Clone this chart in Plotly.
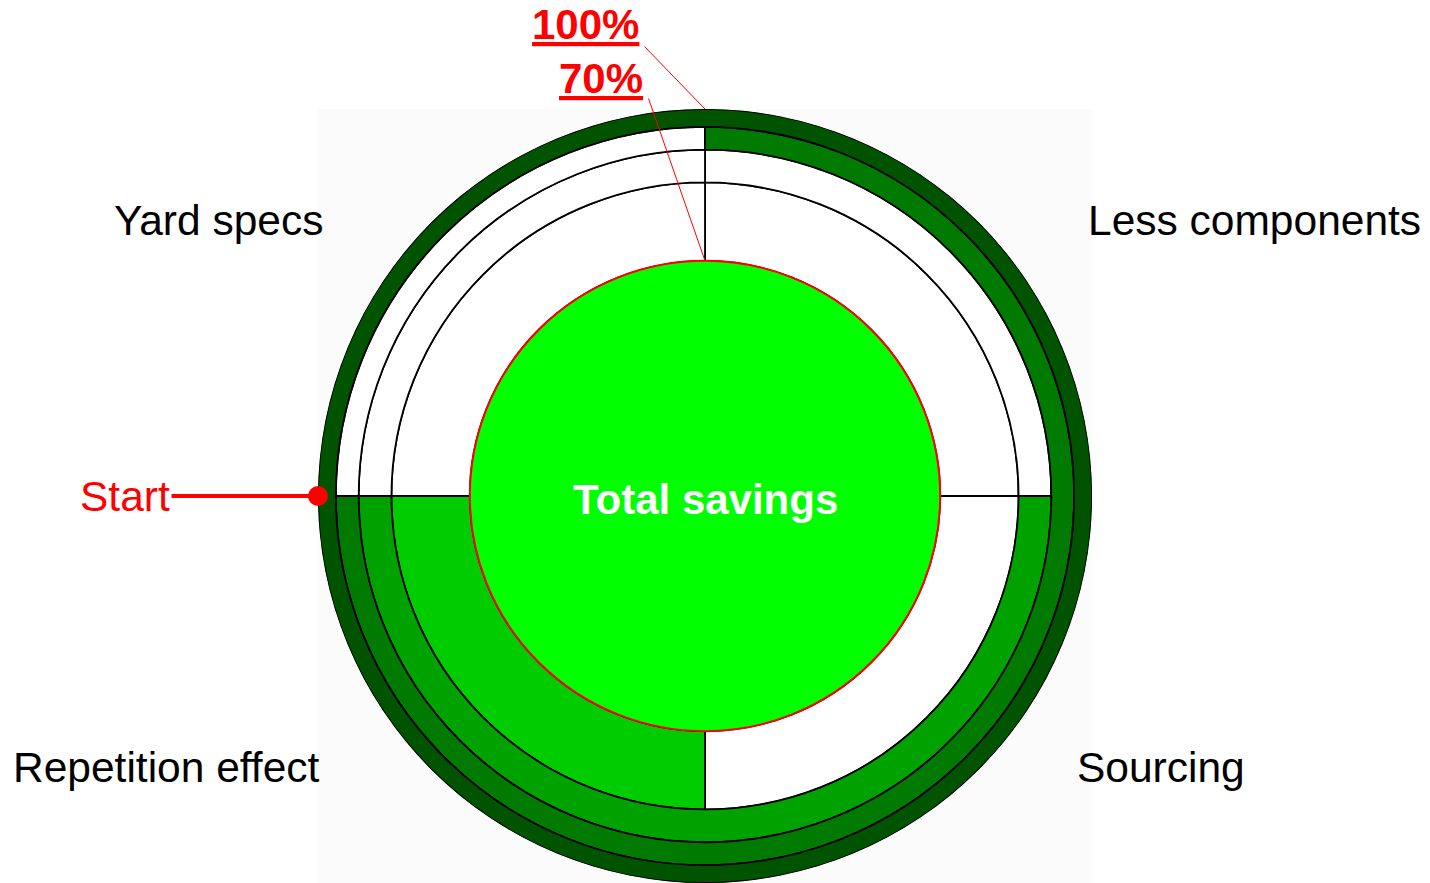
import plotly.graph_objects as go

# ---------------- data ----------------
categories = ["Repetition effect", "Sourcing", "Less components", "Yard specs"]
ring_inner = [237, 316, 349, 372]          # inner radius of each savings ring
ring_outer = [316, 349, 372, 390]          # outer radius of each savings ring
quarters_filled = [1, 2, 3, 4]             # cumulative quadrants filled per ring
ring_colors = ["#00cc00", "#00a200", "#007a00", "#005400"]
core_radius = 237
core_label = "Total savings"
scale_labels = ["100%", "70%"]
scale_radii = [390, 237]
start_label = "Start"
R_MAX = 390

# ---------------- layout geometry ----------------
W, H = 1430, 883
CX_REF, CY_REF = 705, 496             # centre in screen pixels
RPX = 387                             # pixel radius of polar area
px_per_unit = RPX / R_MAX


def paper_x(px):
    return px / W


def paper_y(py):
    return 1 - py / H


FONT = "Liberation Sans, Arial, Helvetica, sans-serif"
OUTLINE = dict(color="black", width=1.8)

fig = go.Figure()

for i in range(len(categories)):
    q = quarters_filled[i]
    thick = ring_outer[i] - ring_inner[i]
    empty = list(range(q, 4))
    if empty:
        fig.add_trace(go.Barpolar(
            theta=[90 * k + 45 for k in empty],
            r=[thick] * len(empty),
            base=[ring_inner[i]] * len(empty),
            width=[90] * len(empty),
            marker=dict(color="white", line=OUTLINE),
            hoverinfo="skip", showlegend=False))
    fig.add_trace(go.Barpolar(
        theta=[45 * q], r=[thick], base=[ring_inner[i]], width=[90 * q],
        marker=dict(color=ring_colors[i], line=OUTLINE),
        name=categories[i], showlegend=False))

# core disc
fig.add_trace(go.Barpolar(
    theta=[180], r=[core_radius], base=[0], width=[360],
    marker=dict(color="#00ff00", line=dict(color="red", width=2)),
    name=core_label, showlegend=False))

# start dot
fig.add_trace(go.Scatterpolar(
    r=[R_MAX], theta=[0], mode="markers",
    marker=dict(color="red", size=20), cliponaxis=False,
    showlegend=False, hoverinfo="skip"))

annotations = []

# quadrant labels
label_pos = {
    "Yard specs": (218, 221),
    "Less components": (1254, 221),
    "Repetition effect": (166, 767),
    "Sourcing": (1161, 767),
}
for c in categories:
    x, y = label_pos[c]
    annotations.append(dict(x=paper_x(x), y=paper_y(y), xref="paper", yref="paper",
                            xanchor="center", yanchor="middle",
                            text=c, showarrow=False,
                            font=dict(family=FONT, size=42.5, color="black")))

# centre label
annotations.append(dict(x=paper_x(CX_REF), y=paper_y(499), xref="paper", yref="paper",
                        xanchor="center", yanchor="middle",
                        text="<b>" + core_label + "</b>", showarrow=False,
                        font=dict(family=FONT, size=42, color="white")))

# start label with red leader line to dot
dot_x = CX_REF - R_MAX * px_per_unit
annotations.append(dict(x=paper_x(dot_x), y=paper_y(CY_REF), xref="paper", yref="paper",
                        text=start_label, showarrow=True, arrowhead=0, arrowwidth=4,
                        arrowcolor="red", ax=125 - dot_x, ay=0, standoff=0,
                        font=dict(family=FONT, size=42.5, color="red")))

# scale labels (100%, 70%)
scale_text_pos = [(585, 25), (601, 78)]
scale_tail = [(643, 45), (648, 97)]
for lab, rad, (tx, ty), (lx, ly) in zip(scale_labels, scale_radii, scale_text_pos, scale_tail):
    annotations.append(dict(x=paper_x(tx), y=paper_y(ty), xref="paper", yref="paper",
                            xanchor="center", yanchor="middle",
                            text="<b><u>" + lab + "</u></b>", showarrow=False,
                            font=dict(family=FONT, size=42, color="red")))
    target_y = CY_REF - rad * px_per_unit
    annotations.append(dict(x=paper_x(CX_REF), y=paper_y(target_y), xref="paper", yref="paper",
                            text="", showarrow=True, arrowhead=0, arrowwidth=1,
                            arrowcolor="red", ax=lx - CX_REF, ay=ly - target_y,
                            standoff=0, startstandoff=0,
                            font=dict(size=1, color="red")))

dom_x = [paper_x(CX_REF - RPX), paper_x(CX_REF + RPX)]
dom_y = [paper_y(CY_REF + RPX), paper_y(CY_REF - RPX)]

fig.update_layout(
    width=W, height=H,
    margin=dict(l=0, r=0, t=0, b=0),
    paper_bgcolor="white",
    plot_bgcolor="white",
    showlegend=False,
    polar=dict(
        domain=dict(x=dom_x, y=dom_y),
        bgcolor="rgba(0,0,0,0)",
        barmode="overlay",
        radialaxis=dict(range=[0, R_MAX], visible=False, showgrid=False),
        angularaxis=dict(rotation=180, direction="counterclockwise",
                         showgrid=False, showline=False, showticklabels=False,
                         ticks=""),
    ),
    shapes=[dict(type="rect", xref="paper", yref="paper",
                 x0=dom_x[0], x1=dom_x[1], y0=0, y1=dom_y[1],
                 fillcolor="#fbfbfb", line=dict(width=0), layer="below")],
    annotations=annotations,
)

fig.write_html("out.html",
               config={"displayModeBar": False},
               post_script="document.body.style.margin='0';document.body.style.overflow='hidden';")
